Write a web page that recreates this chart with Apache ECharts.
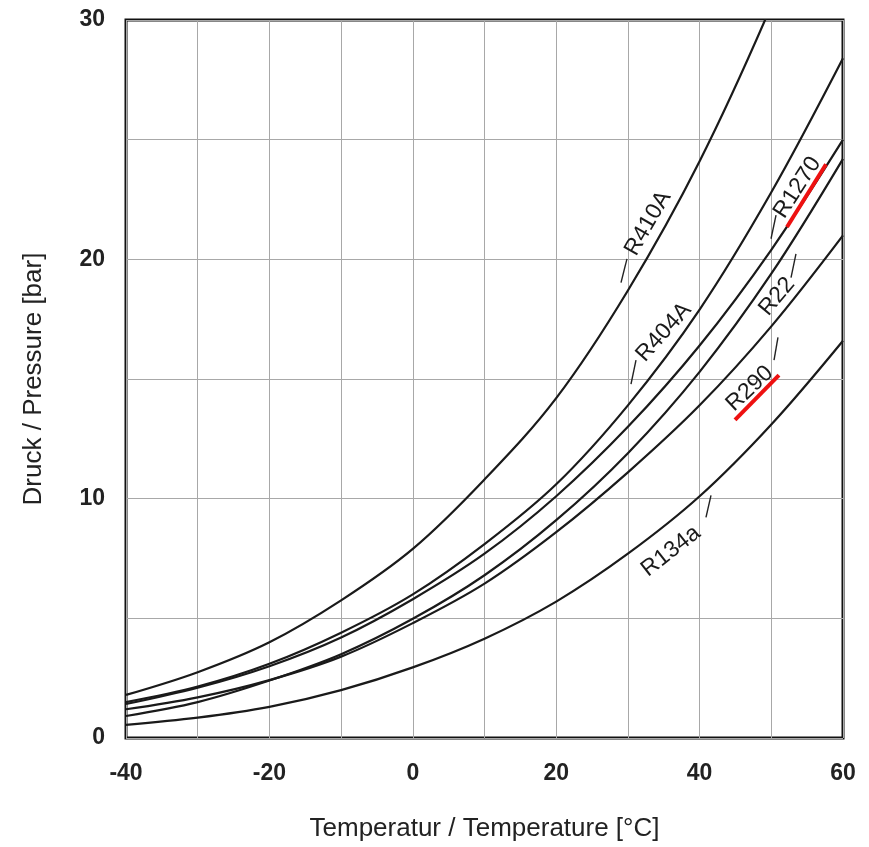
<!DOCTYPE html>
<html>
<head>
<meta charset="utf-8">
<script src="https://cdn.jsdelivr.net/npm/echarts@6/dist/echarts.min.js"></script>
<style>
  html, body { margin: 0; padding: 0; background: #fff; }
  #main { width: 869px; height: 847px; }
</style>
</head>
<body>
<div id="main"></div>
<script>
// temperatures in °C, pressures in bar
let temps = [-40, -30, -20, -10, 0, 10, 20, 30, 40, 50, 60];

let r410a = [1.8, 2.75, 4.0, 5.75, 7.9, 10.8, 14.2, 18.7, 24.1, 30.6, 38.0];
let r404a = [1.5, 2.15, 3.1, 4.4, 6.0, 8.1, 10.6, 13.9, 17.9, 22.8, 28.4];
let r1270 = [1.42, 2.1, 3.0, 4.2, 5.8, 7.7, 10.1, 13.0, 16.4, 20.4, 25.0];
let r22 = [0.92, 1.5, 2.4, 3.5, 4.98, 6.8, 9.1, 11.9, 15.3, 19.4, 24.2];
let r290 = [1.2, 1.7, 2.42, 3.4, 4.8, 6.45, 8.6, 11.1, 13.9, 17.2, 21.0];
let r134a = [0.55, 0.85, 1.3, 2.0, 2.95, 4.15, 5.7, 7.7, 10.1, 13.1, 16.6];

let curveNames = ['R410A', 'R404A', 'R1270', 'R22', 'R290', 'R134a'];
let curveValues = [r410a, r404a, r1270, r22, r290, r134a];

// labelled ticks only every 20 °C and every 10 bar
let xTickLabels = [-40, -20, 0, 20, 40, 60];
let yTickLabels = [0, 10, 20, 30];

// label position [temp, pressure] and text angle
let labelPos = [[32.8, 21.5], [35.0, 16.95], [53.65, 23.0], [50.8, 18.45], [47.0, 14.6], [36.0, 7.8]];
let labelAngle = [60, 48, 57, 50, 43, 38];

// little leader strokes next to the labels
let leaderLines = [
    [[29.04, 19.03], [29.87, 20.02]],
    [[30.43, 14.79], [31.13, 15.79]],
    [[49.96, 20.86], [50.66, 21.85]],
    [[52.75, 19.24], [53.44, 20.23]],
    [[50.38, 15.79], [50.93, 16.74]],
    [[40.89, 9.22], [41.59, 10.14]]
];

// red marks under R1270 and R290
let redMarks = [
    [[52.19, 21.35], [57.63, 23.97]],
    [[44.94, 13.29], [51.07, 15.16]]
];

let font = 'Liberation Sans, Arial, Helvetica, sans-serif';

let series = [];
curveNames.forEach(function (name, i) {
    series.push({
        name: name,
        type: 'line',
        smooth: 0.35,
        showSymbol: false,
        silent: true,
        lineStyle: { color: '#1a1a1a', width: 2.2 },
        data: temps.map(function (t, k) { return [t, curveValues[i][k]]; }),
        z: 3
    });
});

leaderLines.forEach(function (seg) {
    series.push({
        type: 'line', showSymbol: false, silent: true,
        lineStyle: { color: '#222', width: 1.4 },
        data: seg, z: 4
    });
});

redMarks.forEach(function (seg) {
    series.push({
        type: 'line', showSymbol: false, silent: true,
        lineStyle: { color: '#ee1111', width: 4 },
        data: seg, z: 5
    });
});

let myChart = echarts.init(document.getElementById('main'));
let option = {
    backgroundColor: '#fff',
    animation: false,
    grid: {
        left: 126, right: 26, top: 20, bottom: 105,
        show: true,
        borderColor: '#111',
        borderWidth: 3
    },
    xAxis: {
        type: 'value',
        min: -40, max: 60, interval: 10,
        name: 'Temperatur / Temperature [°C]',
        nameLocation: 'middle',
        nameGap: 78,
        nameTextStyle: { fontSize: 26, color: '#222', fontFamily: font },
        axisLine: { show: false },
        axisTick: { show: false },
        axisLabel: {
            margin: 24,
            fontSize: 23,
            fontWeight: 'bold',
            color: '#222',
            fontFamily: font,
            formatter: function (v) { return xTickLabels.indexOf(v) >= 0 ? String(v) : ''; }
        },
        splitLine: { show: true, lineStyle: { color: '#a8a8a8', width: 1 } }
    },
    yAxis: {
        type: 'value',
        min: 0, max: 30, interval: 5,
        name: 'Druck / Pressure [bar]',
        nameLocation: 'middle',
        nameGap: 79,
        nameTextStyle: { fontSize: 26, color: '#222', fontFamily: font },
        axisLine: { show: false },
        axisTick: { show: false },
        axisLabel: {
            margin: 21,
            fontSize: 23,
            fontWeight: 'bold',
            color: '#222',
            fontFamily: font,
            formatter: function (v) { return yTickLabels.indexOf(v) >= 0 ? String(v) : ''; }
        },
        splitLine: { show: true, lineStyle: { color: '#a8a8a8', width: 1 } }
    },
    series: series
};
myChart.setOption(option);

// curve names written along the curves
let labelGraphics = curveNames.map(function (name, i) {
    let p = myChart.convertToPixel({ gridIndex: 0 }, labelPos[i]);
    return {
        type: 'text',
        x: p[0], y: p[1],
        rotation: labelAngle[i] * Math.PI / 180,
        z: 10,
        style: {
            text: name,
            fontSize: 23,
            fontFamily: font,
            fill: '#1a1a1a',
            align: 'center',
            verticalAlign: 'middle'
        }
    };
});
myChart.setOption({ graphic: labelGraphics });
</script>
</body>
</html>
